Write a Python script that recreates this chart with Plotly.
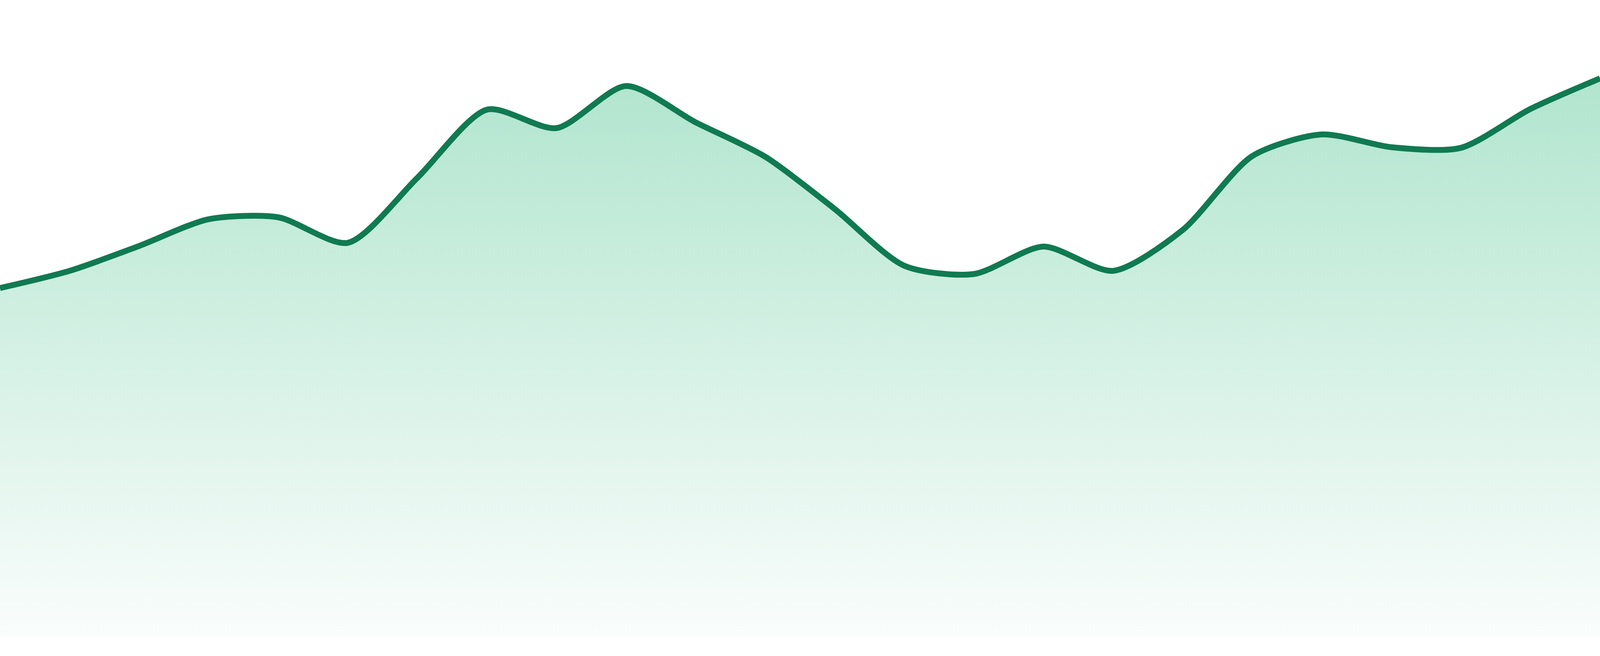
import plotly.graph_objects as go

# evenly spaced samples
steps = list(range(24))
values = [54.8, 57.5, 61.4, 65.6, 65.9, 61.9, 72.1, 82.8, 79.9, 86.5, 80.8, 75.4,
          67.2, 58.3, 57.0, 61.3, 57.5, 63.9, 75.5, 78.9, 76.9, 76.8, 82.9, 87.7]

line_color = "#107a52"
fill_top = "rgb(177,229,206)"
fill_bottom = "rgb(250,253,252)"

fig = go.Figure()
fig.add_trace(go.Scatter(
    x=steps,
    y=values,
    mode="lines",
    line=dict(color=line_color, width=15, shape="spline", smoothing=0.75),
    fill="tozeroy",
    fillgradient=dict(type="vertical", colorscale=[[0, fill_bottom], [1, fill_top]]),
    hoverinfo="skip",
    showlegend=False,
))

# plot area spans the whole window; the blank strip under the fill comes from the y range
fig.update_layout(
    autosize=True,
    margin=dict(l=0, r=0, t=0, b=0),
    paper_bgcolor="white",
    plot_bgcolor="white",
    xaxis=dict(range=[0, 23], visible=False, fixedrange=True),
    yaxis=dict(range=[-2.94, 100], visible=False, fixedrange=True),
)

fill_window = (
    "document.documentElement.style.height='100%';"
    "document.body.style.height='100%';"
    "document.body.style.margin='0';"
    "document.body.style.overflow='hidden';"
    "var gd=document.getElementById('{plot_id}');"
    "gd.parentElement.style.height='100%';"
    "Plotly.Plots.resize(gd);"
)
fig.write_html("out.html", config={"displayModeBar": False, "responsive": True},
               post_script=fill_window)
